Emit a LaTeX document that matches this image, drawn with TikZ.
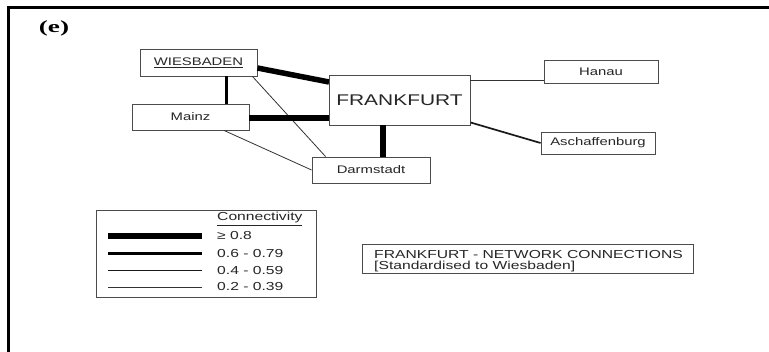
\documentclass[tikz,border=0pt]{standalone}
\usepackage{fontspec}
\usepackage{graphicx}
\setmainfont[FakeStretch=1.35]{Liberation Sans}
\newfontfamily\panelfont{Liberation Serif}
\usetikzlibrary{calc}

\tikzset{
  town/.style={draw=black!70, line width=0.9pt, fill=white, inner sep=0pt,
               font=\fontsize{11}{13}\selectfont, text=black!85},
  conA/.style={line width=5.5pt, black},   % >= 0.8
  conB/.style={line width=3pt, black},     % 0.6 - 0.79
  conC/.style={line width=1.7pt, black!90},% 0.4 - 0.59
  conD/.style={line width=0.8pt, black!80},% 0.2 - 0.39
  frameline/.style={line width=2.4pt, black},
  legtext/.style={anchor=west, inner sep=0pt, font=\fontsize{11.6}{13}\selectfont, text=black!85}
}

\begin{document}
\begin{tikzpicture}[x=1pt, y=-1pt]
  % page area
  \fill[white] (0,0) rectangle (769,352);
  \useasboundingbox (0,0) rectangle (769,352);

  % panel frame (top and left edges)
  \coordinate (ftl) at (8.5,7.5);
  \coordinate (ftr) at (769,7.5);
  \coordinate (fbl) at (8.5,352);
  \draw[frameline] (ftr) -- (ftl) -- (fbl);

  % panel label
  \node (panel) at (54,28) {\panelfont\bfseries\fontsize{17}{19}\selectfont\scalebox{1.6}[1]{(e)}};

  % towns
  \node[town, minimum width=117pt, minimum height=27pt] (wies) at (198.5,62.5) {\underline{WIESBADEN}};
  \node[town, minimum width=117pt, minimum height=26pt] (mainz) at (190.5,117) {Mainz};
  \node[town, minimum width=118pt, minimum height=26pt] (darm) at (371,170) {Darmstadt};
  \node[town, minimum width=114pt, minimum height=23pt] (hanau) at (601,71.5) {Hanau};
  \node[town, minimum width=114pt, minimum height=22pt] (asch) at (598,143) {Aschaffenburg};

  % connections
  \draw[conD] ([xshift=-5pt]wies.south east) -- ([xshift=14pt]darm.north west);
  \draw[conD] ([xshift=33.5pt]mainz.south) -- (darm.west);
  \draw[conB] ([xshift=27.5pt]wies.south) -- ([xshift=27.5pt]wies.south |- mainz.north);
  \draw[conA] ([yshift=-5.5pt]wies.east) -- (329,82) coordinate (fwin);
  \draw[conA] ([yshift=-1pt]mainz.east) -- ([yshift=-1pt]mainz.east -| 329,0);

  \node[town, minimum width=141pt, minimum height=50pt,
        font=\fontsize{15.5}{18}\selectfont] (frank) at (399.5,100) {FRANKFURT};

  \draw[conA] ([xshift=-16.5pt]frank.south) -- ([xshift=-16.5pt]frank.south |- darm.north);
  \draw[conD] ([yshift=20pt]frank.east) -- ([yshift=20pt]frank.east -| hanau.west);
  \draw[conC] ([yshift=3pt]frank.south east) -- (asch.west);

  % legend
  \node[town, minimum width=220pt, minimum height=87pt] (legend) at (206,253.5) {};
  \node[legtext] (legtitle) at (217,219) {\underline{Connectivity}};
  \foreach \y/\sty/\txt [count=\i] in {236/conA/≥ 0.8, 254/conB/0.6 - 0.79, 270.5/conC/0.4 - 0.59, 287/conD/0.2 - 0.39}{
    \coordinate (ls\i) at (108,\y);
    \coordinate (le\i) at (202,\y);
    \draw[\sty, line cap=butt] (ls\i) -- (le\i);
    \node[legtext] (lt\i) at (217,\y) {\txt};
  }

  % title box
  \node[town, minimum width=331pt, minimum height=29pt] (title) at (527.5,258.5) {};
  \node[anchor=north west, inner sep=0pt, align=left,
        font=\fontsize{11.6}{11}\selectfont, text=black!85] (titletext) at (374,250.5)
        {FRANKFURT - NETWORK CONNECTIONS\\{[}Standardised to Wiesbaden{]}};
\end{tikzpicture}
\end{document}
